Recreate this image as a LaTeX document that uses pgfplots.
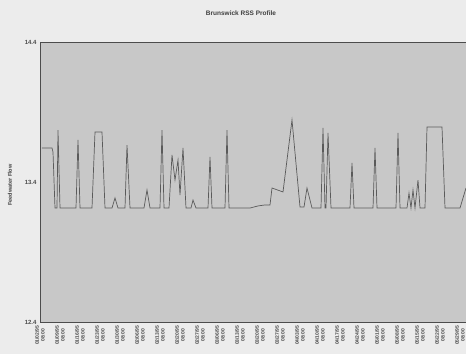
\documentclass[border=0pt]{standalone}
\usepackage{pgfplots}
\pgfplotsset{compat=1.18}
\usepackage{fontspec}
\setmainfont{Liberation Sans}
\definecolor{pagebg}{RGB}{236,236,236}
\definecolor{plotbg}{RGB}{200,200,200}
\definecolor{linec}{RGB}{90,90,90}
\begin{document}
\begin{tikzpicture}
\fill[pagebg] (-40pt,-32pt) rectangle (426pt,322pt);
\useasboundingbox (-40pt,-32pt) rectangle (426pt,322pt);
\begin{axis}[
  at={(0,0)}, anchor=south west,
  scale only axis, width=426pt, height=280pt,
  xmin=0, xmax=21.3, ymin=12.4, ymax=14.4,
  axis background/.style={fill=plotbg},
  axis line style={gray!60!black, line width=0.4pt},
  ytick={12.4,13.4,14.4},
  yticklabels={12.4,13.4,14.4},
  yticklabel style={font=\fontsize{6}{7}\selectfont\bfseries, text=black!70},
  xtick={0,...,21},
  xticklabels={01/02/95\\08:00,01/09/95\\08:00,01/16/95\\08:00,01/23/95\\08:00,01/30/95\\08:00,02/06/95\\08:00,02/13/95\\08:00,02/20/95\\08:00,02/27/95\\08:00,03/06/95\\08:00,03/13/95\\08:00,03/20/95\\08:00,03/27/95\\08:00,04/03/95\\08:00,04/10/95\\08:00,04/17/95\\08:00,04/24/95\\08:00,05/01/95\\08:00,05/08/95\\08:00,05/15/95\\08:00,05/22/95\\08:00,05/29/95\\08:00},
  xticklabel style={font=\fontsize{5}{5.6}\selectfont\bfseries, rotate=90, anchor=east, align=center, text=black!70},
  major tick length=0pt,
  clip=false,
]
\addplot[linec, line width=0.7pt] coordinates {
(0.1,13.643)(0.6,13.643)(0.65,13.614)(0.75,13.214)(0.85,13.214)(0.9,13.771)(1.0,13.214)
(1.8,13.214)(1.9,13.700)(2.0,13.214)(2.6,13.214)(2.75,13.757)(3.1,13.757)(3.25,13.214)
(3.6,13.214)(3.75,13.286)(3.9,13.214)(4.25,13.214)(4.35,13.664)(4.5,13.214)
(5.2,13.214)(5.35,13.343)(5.5,13.214)(6.0,13.214)(6.1,13.771)(6.2,13.214)
(6.45,13.214)(6.6,13.593)(6.75,13.414)(6.9,13.557)(7.0,13.307)(7.15,13.643)(7.3,13.214)
(7.55,13.214)(7.65,13.271)(7.8,13.214)(8.4,13.214)(8.5,13.579)(8.6,13.214)
(9.25,13.214)(9.35,13.771)(9.45,13.214)(10.5,13.214)(10.9,13.229)(11.25,13.236)(11.5,13.236)
(11.6,13.357)(12.15,13.329)(12.6,13.843)(13.0,13.221)(13.2,13.221)(13.35,13.357)(13.6,13.214)
(14.05,13.214)(14.15,13.786)(14.25,13.214)(14.3,13.214)(14.4,13.750)(14.55,13.214)
(15.5,13.214)(15.6,13.536)(15.7,13.214)(16.65,13.214)(16.75,13.643)(16.85,13.214)
(17.8,13.214)(17.9,13.750)(18.0,13.214)(18.35,13.214)(18.45,13.321)(18.55,13.214)
(18.65,13.343)(18.75,13.214)(18.9,13.414)(19.0,13.214)(19.25,13.214)(19.35,13.793)
(20.1,13.793)(20.25,13.214)(21.0,13.214)(21.3,13.357)
};
\end{axis}
\node[font=\fontsize{6.5}{7}\selectfont\bfseries, text=black!75] at (201pt,309pt) {Brunswick RSS Profile};
\node[rotate=90, font=\fontsize{5.5}{6}\selectfont\bfseries, text=black!75] at (-30pt,137pt) {Feedwater Flow};
\end{tikzpicture}
\end{document}
